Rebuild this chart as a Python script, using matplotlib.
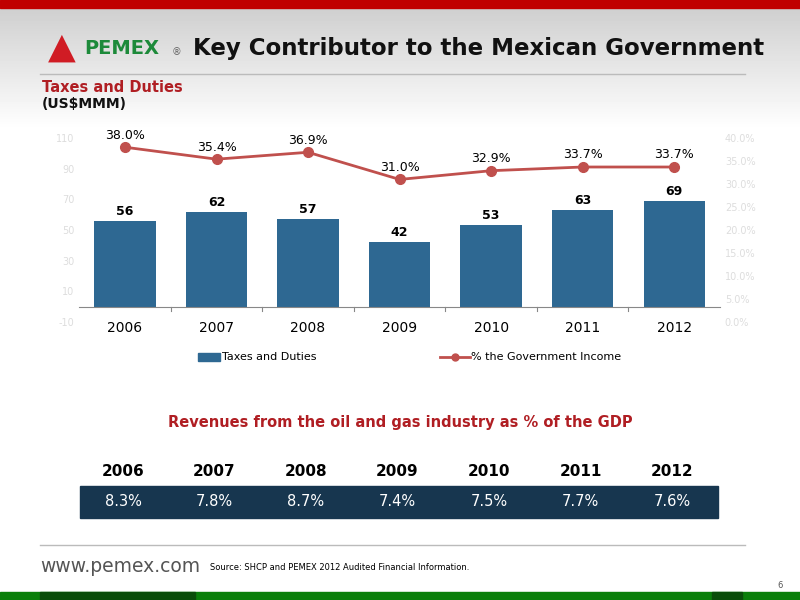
import matplotlib.pyplot as plt
import numpy as np
from matplotlib.patches import Rectangle

years = ["2006", "2007", "2008", "2009", "2010", "2011", "2012"]
taxes = [56, 62, 57, 42, 53, 63, 69]
gov_pct = [38.0, 35.4, 36.9, 31.0, 32.9, 33.7, 33.7]
gdp_pct = ["8.3%", "7.8%", "8.7%", "7.4%", "7.5%", "7.7%", "7.6%"]

BAR = "#2e6892"
RED = "#c0504d"
DARKRED = "#b01e23"

plt.rcParams["axes.unicode_minus"] = False
fig = plt.figure(figsize=(8, 6), dpi=100)

# background: gray gradient header, white body
bg = fig.add_axes([0, 0, 1, 1], zorder=-10)
grad = np.ones((600, 1))
grad[:130, 0] = np.linspace(0.80, 1.0, 130)
bg.imshow(grad, cmap="gray", vmin=0, vmax=1, aspect="auto", extent=[0, 800, 600, 0])
bg.set_xlim(0, 800)
bg.set_ylim(600, 0)
bg.axis("off")
bg.add_patch(Rectangle((0, 0), 800, 8, color="#c00000"))
bg.add_patch(Rectangle((0, 592), 800, 8, color="#0a7f0a"))
bg.add_patch(Rectangle((40, 592), 155, 8, color="#0a4d0a"))
bg.add_patch(Rectangle((712, 592), 30, 8, color="#0a4d0a"))
bg.plot([40, 745], [74, 74], color="#bbbbbb", lw=1)
bg.plot([40, 745], [545, 545], color="#bbbbbb", lw=1)

bg.text(62, 48, "▲", color="#d01c24", fontsize=26, ha="center", va="center")
bg.text(84, 48, "PEMEX", color="#1d8a3a", fontsize=14, fontweight="bold", va="center")
bg.text(172, 52, "®", color="#666666", fontsize=7, va="center")
bg.text(193, 48, "Key Contributor to the Mexican Government", fontsize=16.5,
        fontweight="bold", va="center", color="#111111")
bg.text(42, 88, "Taxes and Duties", color=DARKRED, fontsize=10.5, fontweight="bold", va="center")
bg.text(42, 104, "(US$MMM)", color="#111111", fontsize=10, fontweight="bold", va="center")

bg.text(400, 423, "Revenues from the oil and gas industry as % of the GDP", color=DARKRED,
        fontsize=10.5, fontweight="bold", ha="center", va="center")
bg.add_patch(Rectangle((80, 486), 638, 32, color="#17364f"))
xs = np.linspace(123, 672, 7)
for x, y, g in zip(xs, years, gdp_pct):
    bg.text(x, 471, y, fontsize=11, fontweight="bold", ha="center", va="center")
    bg.text(x, 502, g, fontsize=10.5, color="white", ha="center", va="center")

bg.text(40, 566, "www.pemex.com", fontsize=13.5, color="#555555", va="center")
bg.text(210, 567, "Source: SHCP and PEMEX 2012 Audited Financial Information.", fontsize=6, va="center")
bg.text(777, 586, "6", fontsize=6, color="#555555", va="center")

# chart
ax = fig.add_axes([0.099, 0.463, 0.801, 0.307])
ax.patch.set_alpha(0)
x = np.arange(len(years))
ax.bar(x, taxes, width=0.67, color=BAR)
for xi, v in zip(x, taxes):
    ax.text(xi, v + 2, str(v), ha="center", va="bottom", fontsize=9, fontweight="bold")
ax.set_ylim(-10, 110)
ax.set_xlim(-0.5, len(years) - 0.5)
ax.set_yticks(range(-10, 111, 20))
ax.tick_params(axis="y", colors="#dddddd", labelsize=7, length=0)
ax.set_xticks(x)
ax.set_xticklabels(years, fontsize=11)
ax.tick_params(axis="x", length=0, pad=10)
for s in ["top", "right", "left"]:
    ax.spines[s].set_visible(False)
ax.spines["bottom"].set_position(("data", 0))
ax.spines["bottom"].set_color("#888888")
for b in np.arange(0.5, len(years) - 1, 1):
    ax.plot([b, b], [0, -2.5], color="#888888", lw=0.8, clip_on=False)

ax2 = ax.twinx()
ax2.plot(x, gov_pct, color=RED, lw=2, marker="o", ms=7)
for xi, v in zip(x, gov_pct):
    ax2.text(xi, v + 1.2, f"{v:.1f}%", ha="center", va="bottom", fontsize=9)
ax2.set_ylim(0, 40)
ax2.set_yticks(range(0, 41, 5))
ax2.set_yticklabels([f"{t:.1f}%" for t in range(0, 41, 5)])
ax2.tick_params(axis="y", colors="#dddddd", labelsize=7, length=0)
for s in ax2.spines.values():
    s.set_visible(False)

# legend
bg.add_patch(Rectangle((198, 353), 22, 8, color=BAR))
bg.text(222, 357, "Taxes and Duties", fontsize=8, va="center")
bg.plot([440, 470], [357, 357], color=RED, lw=2)
bg.plot([455], [357], "o", color=RED, ms=5)
bg.text(471, 357, "% the Government Income", fontsize=8, va="center")

fig.savefig("out.png", dpi=100)
